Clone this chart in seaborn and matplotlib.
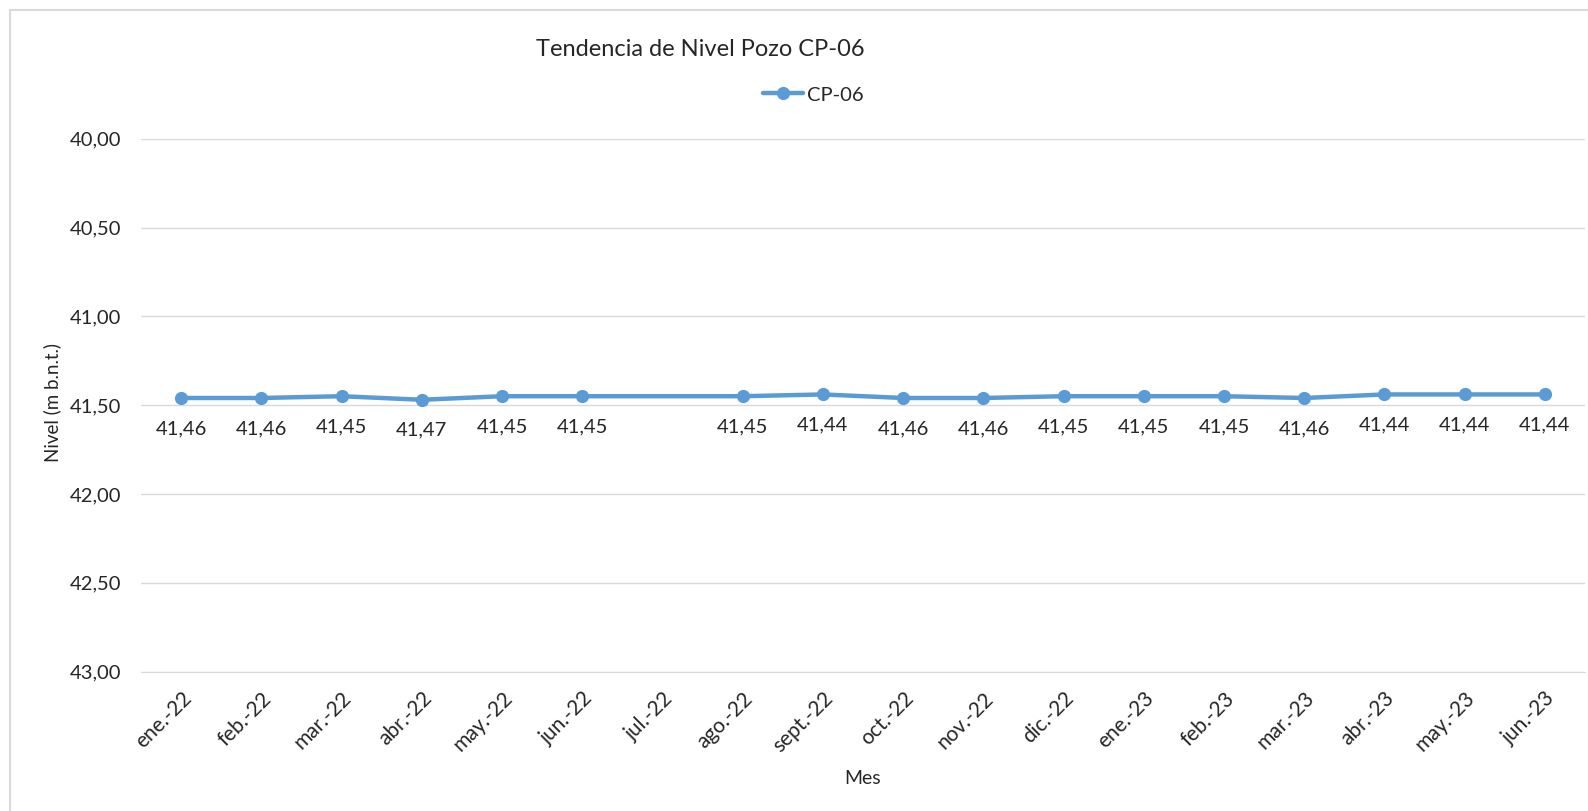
import pandas as pd
import matplotlib.pyplot as plt
import seaborn as sns
from matplotlib.ticker import FixedLocator, FuncFormatter
from matplotlib.patches import Rectangle
from matplotlib.lines import Line2D

# data (jul.-22 has no reading)
meses = ['ene.-22', 'feb.-22', 'mar.-22', 'abr.-22', 'may.-22', 'jun.-22', 'jul.-22',
         'ago.-22', 'sept.-22', 'oct.-22', 'nov.-22', 'dic.-22', 'ene.-23', 'feb.-23',
         'mar.-23', 'abr.-23', 'may.-23', 'jun.-23']
nivel = [41.46, 41.46, 41.45, 41.47, 41.45, 41.45, None,
         41.45, 41.44, 41.46, 41.46, 41.45, 41.45, 41.45,
         41.46, 41.44, 41.44, 41.44]
y_ticks = [40.0, 40.5, 41.0, 41.5, 42.0, 42.5, 43.0]

df = pd.DataFrame({'Mes': meses, 'Nivel': nivel})
df['pos'] = range(len(df))
df_ok = df.dropna()

sns.set_style('white')
plt.rcParams['font.family'] = ['Lato', 'DejaVu Sans']

azul = '#5B9BD5'
gris = '#D9D9D9'
texto = '#262626'

fig = plt.figure(figsize=(15.88, 8.11), dpi=100)
ax = fig.add_axes([141 / 1588, 1 - 671.5 / 811, (1585 - 141) / 1588, (671.5 - 138.7) / 811])

sns.lineplot(data=df_ok, x='pos', y='Nivel', ax=ax, color=azul, linewidth=3.2,
             marker='o', markersize=9.5, markeredgewidth=0, legend=False)

# data labels below points
for _, r in df_ok.iterrows():
    ax.annotate(f"{r['Nivel']:.2f}".replace('.', ','), (r['pos'], r['Nivel']),
                xytext=(0, -22), textcoords='offset points', ha='center', va='center',
                fontsize=14.5, color=texto)

ax.set_ylim(43, 40)
ax.set_xlim(-0.5, len(meses) - 0.5)
ax.yaxis.set_major_locator(FixedLocator(y_ticks))
ax.yaxis.set_major_formatter(FuncFormatter(lambda v, p: f"{v:.2f}".replace('.', ',')))
ax.grid(axis='y', color=gris, linewidth=1)
ax.tick_params(axis='y', length=0, labelsize=14.5, pad=14, labelcolor=texto)

# category ticks between months, labels at centres
ax.xaxis.set_major_locator(FixedLocator([i - 0.5 for i in range(len(meses) + 1)]))
ax.xaxis.set_major_formatter(FuncFormatter(lambda v, p: ''))
ax.xaxis.set_minor_locator(FixedLocator(list(range(len(meses)))))
ax.set_xticklabels(meses, minor=True)
ax.tick_params(axis='x', which='major', length=7, color=gris, width=1)
ax.tick_params(axis='x', which='minor', length=0, labelsize=15, pad=12, labelcolor=texto)
for t in ax.get_xticklabels(minor=True):
    t.set_rotation(45)
    t.set_ha('right')
    t.set_va('top')
    t.set_rotation_mode('anchor')

for s in ['top', 'right', 'left']:
    ax.spines[s].set_visible(False)
ax.spines['bottom'].set_color(gris)
ax.set_xlabel('')
ax.set_ylabel('')

fig.text(700 / 1588, 1 - 50 / 811, 'Tendencia de Nivel Pozo CP-06', ha='center', va='center',
         fontsize=17, color=texto)
fig.text(863 / 1588, 1 - 778 / 811, 'Mes', ha='center', va='center', fontsize=14, color=texto)
fig.text(52 / 1588, 1 - 402 / 811, 'Nivel (m b.n.t.)', ha='center', va='center', rotation=90,
         fontsize=13.5, color=texto)

handle = Line2D([], [], color=azul, linewidth=3.2, marker='o', markersize=9.5, markeredgewidth=0)
fig.legend([handle], ['CP-06'], loc='center', bbox_to_anchor=(813 / 1588, 1 - 95 / 811),
           frameon=False, fontsize=14.5, handlelength=2.0, handletextpad=0.2)

fig.add_artist(Rectangle((10 / 1588, -0.1), 1.2, 1 - 10 / 811 + 0.1, transform=fig.transFigure,
                         fill=False, edgecolor=gris, linewidth=1.5))

fig.savefig('out.png', dpi=100)
